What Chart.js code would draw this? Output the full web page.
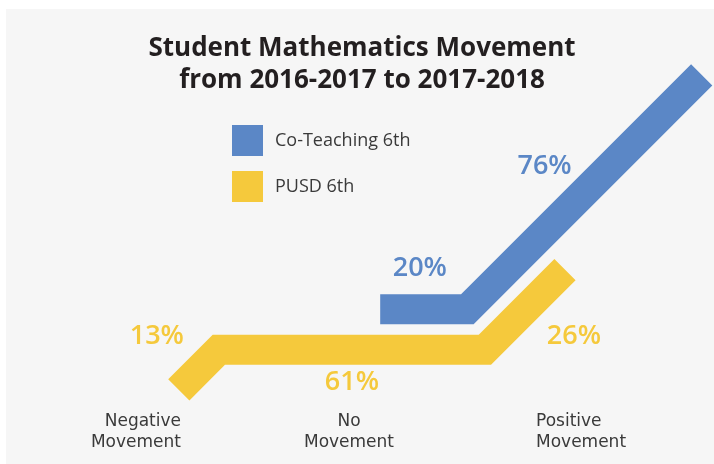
<!DOCTYPE html>
<html>
<head>
<meta charset="utf-8">
<script src="https://cdn.jsdelivr.net/npm/chart.js@4.4.1/dist/chart.umd.min.js"></script>
<style>
  html, body { margin:0; padding:0; background:#fff; }
  #wrap { position:relative; width:714px; height:464px; }
  #panel { position:absolute; left:6px; top:9px; right:0; bottom:0; background:#f6f6f6; }
  #moveChart { position:absolute; left:0; top:0; }
</style>
</head>
<body>
<div id="wrap">
  <div id="panel"></div>
  <canvas id="moveChart" width="714" height="464"></canvas>
</div>
<script>
// data — each path segment's length is the percentage itself
const titleLines = ['Student Mathematics Movement', 'from 2016-2017 to 2017-2018'];
const categories = [['Negative', 'Movement'], ['No', 'Movement'], ['Positive', 'Movement']];
const seriesNames = ['Co-Teaching 6th', 'PUSD 6th'];
const coTeaching = [null, 20, 76];
const pusd = [13, 61, 26];

const BLUE = '#5b87c6', YELLOW = '#f5c93c';
const PX = 4.36; // pixels per percentage point
const W = 714, H = 464;

// where each path's "no movement" segment starts (chart units)
const coStart = { x: 87.2, y: 35.5 };
const pusdStart = { x: 50.2, y: 26.2 };

// negative goes back & down at 45°, no movement runs flat, positive climbs at 45°
function buildPath(vals, start){
  const d = Math.SQRT1_2, pts = [];
  if (vals[0] != null) pts.push({ x: start.x - vals[0]*d, y: start.y - vals[0]*d });
  pts.push({ x: start.x, y: start.y });
  const bend = { x: start.x + vals[1], y: start.y };
  pts.push(bend);
  pts.push({ x: bend.x + vals[2]*d, y: bend.y + vals[2]*d });
  return pts;
}

// label offsets (px) from each segment's midpoint
const coLabelOff = [null, [-4, -41], [-40, -26]];
const pusdLabelOff = [[-42, -33], [0, 33], [49, 27]];

function segMids(pts, vals){
  const out = []; let i = 0;
  for (let c = 0; c < 3; c++){
    if (vals[c] == null){ out.push(null); continue; }
    const a = pts[i], b = pts[i+1]; i++;
    out.push({ x:(a.x+b.x)/2, y:(a.y+b.y)/2 });
  }
  return out;
}

const decor = {
  id: 'decor',
  afterDatasetsDraw(chart){
    const { ctx, scales:{ x, y } } = chart;
    ctx.save();
    // title
    ctx.fillStyle = '#231f20';
    ctx.textAlign = 'center'; ctx.textBaseline = 'alphabetic';
    ctx.font = 'bold 26px "Open Sans", sans-serif';
    ctx.fillText(titleLines[0], 362, 56);
    ctx.fillText(titleLines[1], 362, 88);

    // legend
    ctx.textAlign = 'left'; ctx.textBaseline = 'middle';
    ctx.font = '18px "Open Sans", sans-serif';
    chart.data.datasets.forEach((ds, i) => {
      const ty = 125 + i*46;
      ctx.fillStyle = ds.borderColor;
      ctx.fillRect(232, ty, 31, 31);
      ctx.fillStyle = '#3a3a3a';
      ctx.fillText(ds.label, 275, ty + 16);
    });

    // percentage labels
    ctx.font = '600 27px "Open Sans", sans-serif';
    ctx.textAlign = 'center'; ctx.textBaseline = 'middle';
    [[coTeaching, coStart, coLabelOff, BLUE], [pusd, pusdStart, pusdLabelOff, YELLOW]].forEach(([vals, st, offs, col]) => {
      const mids = segMids(buildPath(vals, st), vals);
      ctx.fillStyle = col;
      mids.forEach((m, c) => {
        if (!m) return;
        ctx.fillText(vals[c] + '%', x.getPixelForValue(m.x) + offs[c][0], y.getPixelForValue(m.y) + offs[c][1]);
      });
    });

    // category labels
    ctx.font = '17px "DejaVu Sans", sans-serif';
    ctx.fillStyle = '#3a3a3a';
    ctx.textBaseline = 'alphabetic';
    const catX = [181, 349, 536], catAlign = ['right', 'center', 'left'];
    categories.forEach((lines, c) => {
      ctx.textAlign = catAlign[c];
      lines.forEach((t, j) => ctx.fillText(t, catX[c], 426 + j*21));
    });
    ctx.restore();
  }
};

new Chart(document.getElementById('moveChart'), {
  type: 'scatter',
  data: {
    datasets: [
      { label: seriesNames[0], data: buildPath(coTeaching, coStart), borderColor: BLUE, backgroundColor: BLUE },
      { label: seriesNames[1], data: buildPath(pusd, pusdStart), borderColor: YELLOW, backgroundColor: YELLOW }
    ].map(ds => Object.assign(ds, { showLine:true, borderWidth:30, pointRadius:0, pointHoverRadius:0,
        tension:0, borderCapStyle:'butt', borderJoinStyle:'miter', clip:false }))
  },
  options: {
    responsive: false,
    animation: false,
    layout: { padding: 0 },
    plugins: { legend:{ display:false }, tooltip:{ enabled:false }, title:{ display:false } },
    scales: {
      x: { type:'linear', min:0, max:W/PX, display:false },
      y: { type:'linear', min:0, max:H/PX, display:false }
    }
  },
  plugins: [decor]
});
</script>
</body>
</html>
